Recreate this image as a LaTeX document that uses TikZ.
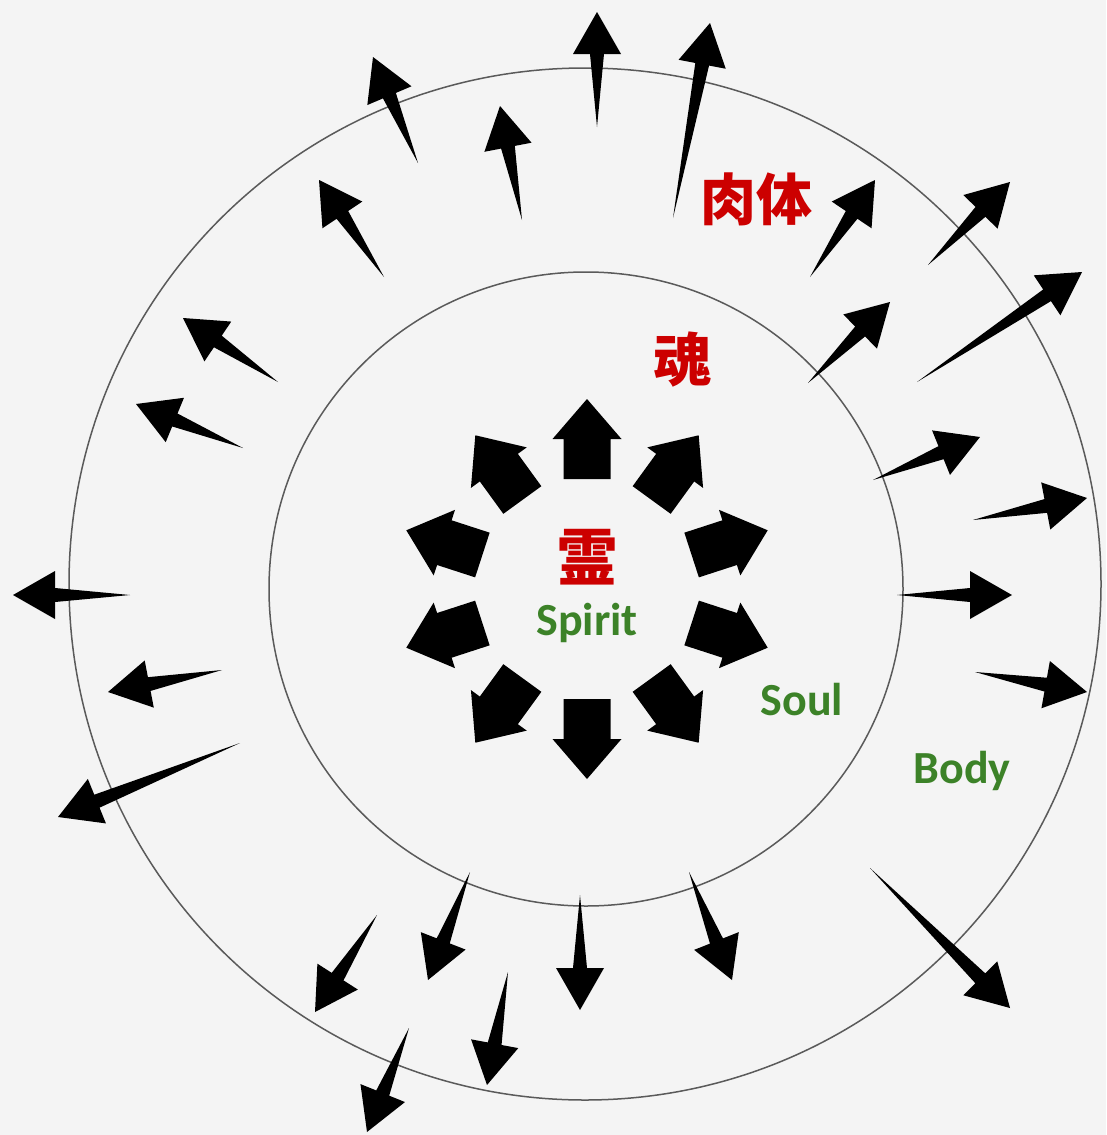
\documentclass[tikz,border=0pt]{standalone}
\usepackage{fontspec}
\setmainfont{Carlito}
\newfontfamily\cjk{Noto Sans CJK JP}
\usetikzlibrary{calc}
\definecolor{redtxt}{RGB}{204,0,0}
\definecolor{greentxt}{RGB}{60,130,40}
\definecolor{paper}{RGB}{244,244,244}
\definecolor{ringgray}{RGB}{90,90,90}
\tikzset{
  arrowfill/.style={fill=black},
  ring/.style={draw=ringgray, line width=1.5pt},
  cjklab/.style={text=redtxt, font=\cjk\bfseries\fontsize{56}{60}\selectfont, inner sep=0pt},
  greenlab/.style={text=greentxt, font=\bfseries\fontsize{46}{50}\selectfont, inner sep=0pt, anchor=base},
}
\newcommand\outarr[2]{\fill[arrowfill] (#1) -- ($(#2)!42pt!(#1)!7pt!90:(#2)$) -- ($(#2)!42pt!(#1)!24pt!90:(#2)$) -- (#2) -- ($(#2)!42pt!(#1)!24pt!-90:(#2)$) -- ($(#2)!42pt!(#1)!7pt!-90:(#2)$) -- cycle;}
\begin{document}
\begin{tikzpicture}[x=1pt, y=-1pt]
\useasboundingbox (0,0) rectangle (1106,1135);
\fill[paper] (0,0) rectangle (1106,1135);
% rings
\coordinate (oc) at (585,584);
\coordinate (ic) at (586,589);
\coordinate (sc) at (587,589);
\draw[ring] (oc) circle[radius=516pt];
\draw[ring] (ic) circle[radius=317pt];
% inner block arrows
\foreach \a in {18,54,90,126,162,198,234,270,306,342} {
  \begin{scope}[shift={(sc)}, rotate=\a]
    \fill[arrowfill] (110,-23.5) -- (150,-23.5) -- (150,-34.5) -- (190,0) -- (150,34.5) -- (150,23.5) -- (110,23.5) -- cycle;
  \end{scope}
}
% outer arrows: tails and tips
\coordinate (t1) at (597,127);  \coordinate (p1) at (597,12);
\coordinate (t2) at (673,218);  \coordinate (p2) at (710,23);
\coordinate (t3) at (418,163);  \coordinate (p3) at (373,57);
\coordinate (t4) at (522,220);  \coordinate (p4) at (500,106);
\coordinate (t5) at (384,277);  \coordinate (p5) at (319,180);
\coordinate (t6) at (278,382);  \coordinate (p6) at (183,318);
\coordinate (t7) at (243,448);  \coordinate (p7) at (136,404);
\coordinate (t8) at (130,595);  \coordinate (p8) at (13,595);
\coordinate (t9) at (222,670);  \coordinate (p9) at (108,692);
\coordinate (t10) at (240,743); \coordinate (p10) at (58,817);
\coordinate (t11) at (377,915); \coordinate (p11) at (315,1012);
\coordinate (t12) at (470,872); \coordinate (p12) at (428,980);
\coordinate (t13) at (409,1028); \coordinate (p13) at (367,1132);
\coordinate (t14) at (508,972); \coordinate (p14) at (487,1085);
\coordinate (t15) at (580,895); \coordinate (p15) at (580,1010);
\coordinate (t16) at (689,872); \coordinate (p16) at (732,980);
\coordinate (t17) at (870,868); \coordinate (p17) at (1010,1008);
\coordinate (t18) at (975,672); \coordinate (p18) at (1087,692);
\coordinate (t19) at (897,595); \coordinate (p19) at (1012,595);
\coordinate (t20) at (973,520); \coordinate (p20) at (1087,498);
\coordinate (t21) at (873,480); \coordinate (p21) at (980,437);
\coordinate (t22) at (917,382); \coordinate (p22) at (1082,272);
\coordinate (t23) at (808,383); \coordinate (p23) at (890,302);
\coordinate (t24) at (928,265); \coordinate (p24) at (1010,182);
\coordinate (t25) at (810,277); \coordinate (p25) at (875,180);
\foreach \i in {1,...,25} { \outarr{t\i}{p\i} }
% labels
\node[cjklab] (nikutai) at (756,199) {肉体};
\node[cjklab, font=\cjk\bfseries\fontsize{58}{62}\selectfont] (tamashii) at (682,360) {魂};
\node[cjklab, font=\cjk\bfseries\fontsize{62}{66}\selectfont] (rei) at (587,557) {霊};
\node[greenlab] (spirit) at (587,635) {Spirit};
\node[greenlab] (soul) at (802,715) {Soul};
\node[greenlab] (body) at (962,783) {Body};
\end{tikzpicture}
\end{document}
